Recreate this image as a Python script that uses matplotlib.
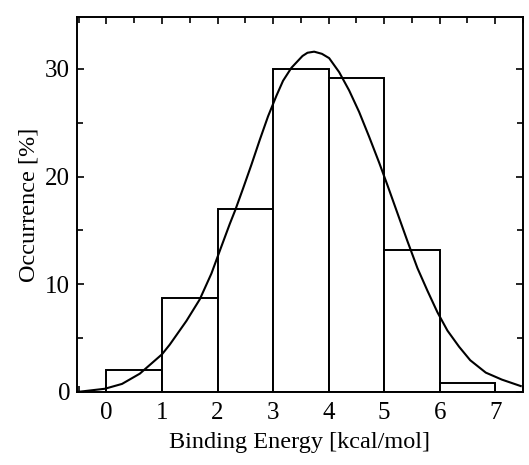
import matplotlib
matplotlib.use("Agg")
import matplotlib.pyplot as plt
from matplotlib.ticker import MultipleLocator

# histogram of binding energies, bins 1 kcal/mol wide
bin_left = [0, 1, 2, 3, 4, 5, 6]
occurrence = [2.0, 8.7, 17.0, 30.0, 29.2, 13.2, 0.8]

# fitted distribution curve, read point by point
curve_x = [-0.53, -0.03, 0.28, 0.60, 0.80, 1.00, 1.14, 1.44, 1.68, 1.89,
           2.04, 2.22, 2.32, 2.46, 2.61, 2.76, 2.91, 3.06, 3.18, 3.33,
           3.53, 3.62, 3.74, 3.88, 4.01, 4.19, 4.37, 4.55, 4.73, 4.91,
           5.06, 5.24, 5.42, 5.60, 5.78, 5.96, 6.14, 6.35, 6.55, 6.83,
           7.12, 7.46]
curve_y = [0.0, 0.3, 0.75, 1.7, 2.6, 3.5, 4.4, 6.6, 8.6, 11.0,
           13.1, 15.6, 16.9, 18.9, 21.1, 23.4, 25.6, 27.5, 28.9, 30.1,
           31.2, 31.5, 31.6, 31.4, 31.0, 29.7, 28.0, 26.0, 23.7, 21.3,
           19.2, 16.6, 14.0, 11.5, 9.4, 7.4, 5.7, 4.2, 2.95, 1.8,
           1.15, 0.55]

plt.rcParams['font.family'] = ['Liberation Serif', 'DejaVu Serif']

fig = plt.figure(figsize=(5.29, 4.65), dpi=100)
ax = fig.add_axes([0.1456, 0.157, 0.843, 0.806])

ax.bar(bin_left, occurrence, width=1.0, align='edge', color='white',
       edgecolor='black', linewidth=1.4, zorder=2)
ax.plot(curve_x, curve_y, color='black', linewidth=1.5, zorder=3)

ax.set_xlim(-0.53, 7.5)
ax.set_ylim(0, 34.8)
ax.xaxis.set_major_locator(MultipleLocator(1))
ax.xaxis.set_minor_locator(MultipleLocator(0.5))
ax.yaxis.set_major_locator(MultipleLocator(10))
ax.yaxis.set_minor_locator(MultipleLocator(5))
ax.tick_params(which='both', direction='in', top=True, right=True, width=1.2)
ax.tick_params(which='major', length=5, labelsize=18)
ax.tick_params(axis='x', which='major', pad=7)
ax.tick_params(axis='y', which='major', pad=5)
ax.tick_params(which='minor', length=4)
for s in ax.spines.values():
    s.set_linewidth(1.4)

ax.set_xlabel('Binding Energy [kcal/mol]', fontsize=17.5, labelpad=6)
ax.set_ylabel('Occurrence [%]', fontsize=17.5, labelpad=4)

fig.savefig('out.png', dpi=100)
